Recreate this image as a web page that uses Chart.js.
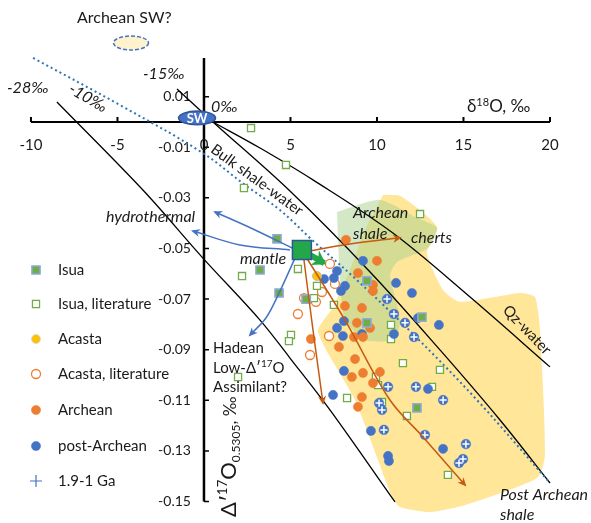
<!DOCTYPE html>
<html>
<head>
<meta charset="utf-8">
<script src="https://cdn.jsdelivr.net/npm/chart.js@4.4.0/dist/chart.umd.min.js"></script>
<style>
  html, body { margin: 0; padding: 0; background: #fff; }
  #wrap { width: 591px; height: 523px; position: relative; }
</style>
</head>
<body>
<div id="wrap"><canvas id="chart"></canvas></div>
<script>
// axis ticks
const xTicks = [-10, -5, 0, 5, 10, 15, 20];
const yTicks = [0.01, -0.01, -0.03, -0.05, -0.07, -0.09, -0.11, -0.13, -0.15];

// samples [d18O, D'17O]
const isua = [[4.22,-0.0462],[3.24,-0.0585],[4.34,-0.0676],[5.90,-0.0700],[9.42,-0.0628],
  [12.60,-0.0771],[9.42,-0.0794],[12.31,-0.1130]];
const isuaLit = [[2.72,-0.0024],[4.74,-0.0170],[2.31,-0.0261],[2.20,-0.0609],[5.43,-0.0581],
  [6.53,-0.0648],[6.36,-0.0696],[7.51,-0.0723],[5.03,-0.0842],[4.91,-0.0866],[1.97,-0.1008],
  [12.49,-0.0364],[10.81,-0.0802],[10.81,-0.0858],[11.50,-0.0953],[13.64,-0.0980],[9.94,-0.1008],
  [10.06,-0.1040],[13.18,-0.1047],[10.29,-0.1107],[8.27,-0.1091],[11.73,-0.1162],[14.10,-0.1395]];
const acasta = [[6.53,-0.0609]];
const acastaLit = [[5.43,-0.0759],[6.82,-0.0672],[5.78,-0.0696],[6.47,-0.0711],[7.28,-0.0561],
  [7.57,-0.0640],[7.23,-0.0846],[6.13,-0.0921]];
const archean = [[8.21,-0.0466],[10.00,-0.0549],[8.90,-0.0597],[9.77,-0.0644],[9.77,-0.0668],
  [8.15,-0.0727],[9.13,-0.0735],[8.84,-0.0794],[9.60,-0.0814],[8.67,-0.0850],[9.19,-0.0850],
  [7.80,-0.0889],[6.18,-0.0858],[8.73,-0.0937],[9.19,-0.0992],[10.17,-0.0988],[8.55,-0.1008],
  [9.77,-0.1032],[9.13,-0.1087],[8.90,-0.1126]];
const postArchean = [[6.94,-0.0621],[9.19,-0.0549],[7.69,-0.0589],[7.51,-0.0617],[8.15,-0.0648],
  [7.92,-0.0668],[11.10,-0.0636],[12.02,-0.0676],[8.09,-0.0787],[7.69,-0.0814],[8.03,-0.0846],
  [9.13,-0.0838],[10.98,-0.0838],[12.37,-0.0775],[13.58,-0.0802],[8.09,-0.0984],[7.46,-0.1079],
  [12.95,-0.1055],[9.65,-0.1221],[10.64,-0.1320],[10.69,-0.1340],[13.82,-0.1292]];
const ga19 = [[10.58,-0.0700],[10.98,-0.0759],[11.62,-0.0794],[12.14,-0.0850],[10.64,-0.1047],
  [12.25,-0.1047],[13.82,-0.1099],[10.12,-0.1111],[10.29,-0.1138],[10.40,-0.1217],[12.77,-0.1237],
  [15.14,-0.1273],[14.97,-0.1332],[14.74,-0.1348]];
const mantle = [[5.66,-0.0506]];

// fields and curves
const postArcheanShale = [[10.35,-0.0289],[11.33,-0.0292],[13.47,-0.0415],[12.89,-0.0518],[13.82,-0.0664],
  [14.80,-0.0711],[18.27,-0.0676],[19.13,-0.0692],[19.42,-0.0822],[19.71,-0.1316],[19.25,-0.1407],
  [15.09,-0.1514],[13.06,-0.1542],[11.33,-0.1522],[10.87,-0.1482],[8.73,-0.1099],[6.59,-0.0830],
  [7.46,-0.0731],[8.44,-0.0585],[9.31,-0.0427],[10.35,-0.0289]];
const archeanShale = [[7.69,-0.0356],[10.17,-0.0308],[12.31,-0.0379],[13.47,-0.0419],[12.95,-0.0498],
  [11.16,-0.0553],[10.75,-0.0605],[11.10,-0.0704],[11.33,-0.0791],[10.98,-0.0862],[9.31,-0.0862],
  [8.15,-0.0783],[7.86,-0.0625],[7.69,-0.0356]];
const curve28 = [[-8.50,0.0079],[-3.53,-0.0269],[-0.06,-0.0538],[3.24,-0.0783],[4.97,-0.0933],
  [7.28,-0.1138],[11.04,-0.1502]];
const curve15 = [[-1.56,0.0130],[0.52,0],[4.97,-0.0273],[9.60,-0.0593],[13.64,-0.0901],
  [17.11,-0.1178],[20.0,-0.1427]];
const qzWater = [[0.52,0],[3.24,-0.0103],[6.30,-0.0229],[10.92,-0.0439],[15.38,-0.0692],[20.0,-0.0968]];
const bulkShaleWater = [[-9.88,0.0253],[-4.86,0.0067],[-0.06,-0.0123],[2.37,-0.0249],[4.39,-0.0348],
  [6.24,-0.0466],[8.84,-0.0625],[12.08,-0.0838],[15.78,-0.1099],[20.0,-0.1427]];

// arrows from mantle
const hydroUp = [[5.09,-0.0498],[2.83,-0.0423],[0.64,-0.0356]];
const hydroLeft = [[4.97,-0.0506],[2.08,-0.0486],[-0.64,-0.0431]];
const hadeanArrow = [[5.26,-0.0538],[4.34,-0.0676],[3.58,-0.0775],[2.66,-0.0842]];
const shaleArrow = [[5.84,-0.0514],[6.95,-0.0558]];
const chertArrow = [[5.72,-0.0514],[8.44,-0.0482],[11.33,-0.0458]];
const archeanArrow = [[5.72,-0.0514],[6.30,-0.0822],[6.88,-0.1111]];
const postArcheanArrow = [[5.72,-0.0514],[8.15,-0.0783],[10.75,-0.1099],[12.66,-0.1245],[15.09,-0.1435]];

const pts = arr => arr.map(p => ({x: p[0], y: p[1]}));
const FONT = 'Lato, "Open Sans", sans-serif';
Chart.defaults.font.family = FONT;

function curve(data, color, width, order, extra) {
  return Object.assign({
    type: 'line', data: pts(data), borderColor: color, borderWidth: width,
    pointRadius: 0, fill: false, tension: 0.35, order: order
  }, extra || {});
}
function field(data, color, order) {
  return {
    type: 'line', data: pts(data), borderWidth: 0, borderColor: 'rgba(0,0,0,0)',
    backgroundColor: color, pointRadius: 0, fill: 'shape', tension: 0.2, order: order
  };
}
function marks(data, style, radius, bg, border, bw, order) {
  return {
    type: 'scatter', data: pts(data), pointStyle: style, pointRadius: radius,
    backgroundColor: bg, borderColor: border, borderWidth: bw, order: order
  };
}

const datasets = [
  field(postArcheanShale, '#FFE699', 20),
  field(archeanShale, 'rgba(169,209,142,0.5)', 19),
  curve(curve28, '#000', 1.3, 15),
  curve(curve15, '#000', 1.3, 15),
  curve(qzWater, '#000', 1.3, 15),
  curve(bulkShaleWater, '#2E75B6', 2, 14, {borderDash: [2, 3]}),
  marks(isuaLit, 'rect', 5, '#fff', '#70AD47', 1.3, 9),
  marks(acastaLit, 'circle', 4.5, '#fff', '#ED7D31', 1.3, 9),
  marks(archean, 'circle', 4.6, '#ED7D31', '#ED7D31', 0.5, 8),
  marks(postArchean, 'circle', 4.6, '#4472C4', '#4472C4', 0.5, 8),
  marks(ga19, 'circle', 4.8, '#4472C4', '#4472C4', 0.5, 7),
  marks(ga19, 'cross', 3.6, '#fff', '#fff', 1.5, 6),
  marks(acasta, 'circle', 4.5, '#FFC000', '#BFBFBF', 1, 6),
  marks(isua, 'rect', 5.8, '#70AD47', '#8FAADC', 1.5, 5),
  curve(hydroUp, '#4472C4', 1.5, 3, {arrow: [9, 4]}),
  curve(hydroLeft, '#4472C4', 1.5, 3, {arrow: [9, 4]}),
  curve(hadeanArrow, '#4472C4', 1.5, 3, {arrow: [9, 4]}),
  curve(chertArrow, '#C55A11', 1.5, 3, {arrow: [9, 4]}),
  curve(archeanArrow, '#C55A11', 1.5, 3, {arrow: [9, 4]}),
  curve(postArcheanArrow, '#C55A11', 1.5, 3, {arrow: [9, 4]}),
  curve(shaleArrow, '#22A84A', 6, 2, {tension: 0, arrow: [13, 8.5]}),
  marks(mantle, 'rect', 13.4, '#22A84A', '#2F5597', 1.5, 1)
];

function text(ctx, str, x, y, font, opts) {
  opts = opts || {};
  ctx.save();
  ctx.font = font;
  ctx.fillStyle = opts.color || '#1a1a1a';
  ctx.textAlign = opts.align || 'left';
  ctx.textBaseline = opts.baseline || 'middle';
  ctx.translate(x, y);
  if (opts.rot) ctx.rotate(opts.rot * Math.PI / 180);
  ctx.fillText(str, 0, 0);
  ctx.restore();
}
// runs of [string, size, dy, italic] along one baseline
function richText(ctx, runs, x, y, rot) {
  ctx.save();
  ctx.translate(x, y);
  if (rot) ctx.rotate(rot * Math.PI / 180);
  ctx.fillStyle = '#1a1a1a';
  ctx.textBaseline = 'alphabetic';
  let cx = 0;
  for (const r of runs) {
    ctx.font = (r[3] ? 'italic ' : '') + r[1] + 'px ' + FONT;
    ctx.fillText(r[0], cx, r[2]);
    cx += ctx.measureText(r[0]).width;
  }
  ctx.restore();
}
function ellipse(ctx, cx, cy, rx, ry, fill, stroke, dash) {
  ctx.save();
  ctx.beginPath();
  ctx.ellipse(cx, cy, rx, ry, 0, 0, Math.PI * 2);
  ctx.fillStyle = fill; ctx.fill();
  if (stroke) {
    ctx.strokeStyle = stroke; ctx.lineWidth = 1.5;
    if (dash) ctx.setLineDash(dash);
    ctx.stroke();
  }
  ctx.restore();
}

const axesPlugin = {
  id: 'axes',
  beforeDatasetsDraw(chart) {
    const ctx = chart.ctx, xs = chart.scales.x, ys = chart.scales.y;
    const y0 = ys.getPixelForValue(0), x0 = xs.getPixelForValue(0);
    ctx.save();
    ctx.strokeStyle = '#000';
    ctx.lineWidth = 2;
    ctx.beginPath();
    ctx.moveTo(xs.getPixelForValue(xTicks[0]), y0);
    ctx.lineTo(xs.getPixelForValue(xTicks[xTicks.length - 1]), y0);
    for (const t of xTicks) {
      const px = xs.getPixelForValue(t);
      ctx.moveTo(px, y0); ctx.lineTo(px, y0 - 5);
    }
    ctx.stroke();
    ctx.lineWidth = 2.5;
    ctx.beginPath();
    ctx.moveTo(x0, ys.getPixelForValue(0.0253));
    ctx.lineTo(x0, ys.getPixelForValue(yTicks[yTicks.length - 1]));
    ctx.stroke();
    ctx.lineWidth = 1.5;
    ctx.beginPath();
    for (const t of yTicks) {
      const py = ys.getPixelForValue(t);
      ctx.moveTo(x0, py); ctx.lineTo(x0 + 5, py);
    }
    ctx.stroke();
    ctx.restore();
    for (const t of xTicks) {
      text(ctx, String(t), xs.getPixelForValue(t), y0 + 23, '15px ' + FONT, {align: 'center'});
    }
    for (const t of yTicks) {
      text(ctx, t.toFixed(2), x0 - 13, ys.getPixelForValue(t), '14px ' + FONT, {align: 'right'});
    }
  },
  afterDatasetsDraw(chart) {
    const ctx = chart.ctx, xs = chart.scales.x, ys = chart.scales.y;
    // arrow heads
    chart.data.datasets.forEach((ds, i) => {
      if (!ds.arrow) return;
      const el = chart.getDatasetMeta(i).data;
      const end = el[el.length - 1], prev = el[el.length - 2];
      let bx = end.cp1x, by = end.cp1y;
      if (bx === undefined || (Math.abs(bx - end.x) < 0.5 && Math.abs(by - end.y) < 0.5)) { bx = prev.x; by = prev.y; }
      const a = Math.atan2(end.y - by, end.x - bx);
      const len = ds.arrow[0], half = ds.arrow[1];
      const tx = end.x + Math.cos(a) * 2, ty = end.y + Math.sin(a) * 2;
      ctx.save();
      ctx.fillStyle = ds.borderColor;
      ctx.beginPath();
      ctx.moveTo(tx, ty);
      ctx.lineTo(tx - len * Math.cos(a) + half * Math.sin(a), ty - len * Math.sin(a) - half * Math.cos(a));
      ctx.lineTo(tx - 0.7 * len * Math.cos(a), ty - 0.7 * len * Math.sin(a));
      ctx.lineTo(tx - len * Math.cos(a) - half * Math.sin(a), ty - len * Math.sin(a) + half * Math.cos(a));
      ctx.closePath();
      ctx.fill();
      ctx.restore();
    });

    // seawater ellipses
    ellipse(ctx, xs.getPixelForValue(-0.40), ys.getPixelForValue(0.0016), 18.5, 6.8, '#4472C4', '#2F5597');
    text(ctx, 'SW', xs.getPixelForValue(-0.40), ys.getPixelForValue(0.0016) + 1, 'bold 13px ' + FONT, {align: 'center', color: '#fff'});
    ellipse(ctx, 131, 43, 17.5, 7, '#FFF2CC', '#4472C4', [4, 2]);

    // annotations
    const it = 'italic 16px ' + FONT, rg = '16px ' + FONT, sm = '15px ' + FONT;
    text(ctx, 'Archean SW?', 77, 18, rg);
    text(ctx, '-15‰', 143, 74, it);
    text(ctx, '-28‰', 7, 88, it);
    text(ctx, '-10‰', 88, 98, it, {align: 'center', rot: 30});
    text(ctx, '0‰', 211, 107, it);
    richText(ctx, [['δ', 17, 0], ['18', 11, -6], ['O, ‰', 17, 0]], 467, 112);
    text(ctx, 'Bulk shale-water', 257, 180, sm, {align: 'center', rot: 36});
    text(ctx, 'hydrothermal', 106, 217, it);
    text(ctx, 'mantle', 240, 259, it);
    text(ctx, 'Archean', 353, 213, it);
    text(ctx, 'shale', 353, 234, it);
    text(ctx, 'cherts', 411, 238, it);
    text(ctx, 'Qz-water', 527, 330, sm, {align: 'center', rot: 46});
    text(ctx, 'Hadean', 213, 348, sm);
    richText(ctx, [['Low-Δ\u2032', 15, 0], ['17', 10, -6], ['O', 15, 0]], 213, 373);
    text(ctx, 'Assimilant?', 213, 387, sm);
    text(ctx, 'Post Archean', 500, 495, it);
    text(ctx, 'shale', 500, 515, it);
    richText(ctx, [['Δ\u2032', 22, 0], ['17', 13, -9], ['O', 22, 0], ['0.5305', 12, 4], [', ‰', 17, 0]], 236, 517, -90);

    // legend
    const legend = [
      ['Isua', 'rect', 5.8, '#70AD47', '#8FAADC', 1.5],
      ['Isua, literature', 'rect', 5, '#fff', '#70AD47', 1.3],
      ['Acasta', 'circle', 4.5, '#FFC000', '#D9D9D9', 1],
      ['Acasta, literature', 'circle', 4.5, '#fff', '#ED7D31', 1.3],
      ['Archean', 'circle', 4.6, '#ED7D31', '#ED7D31', 0.5],
      ['post-Archean', 'circle', 4.6, '#4472C4', '#4472C4', 0.5],
      ['1.9-1 Ga', 'cross', 6, '#4472C4', '#4472C4', 1.2]
    ];
    const rows = [270, 304, 339, 374, 410, 446, 481];
    legend.forEach((l, i) => {
      ctx.save();
      ctx.fillStyle = l[3]; ctx.strokeStyle = l[4]; ctx.lineWidth = l[5];
      Chart.helpers.drawPoint(ctx, {pointStyle: l[1], radius: l[2], rotation: 0, borderWidth: l[5]}, 36, rows[i]);
      ctx.restore();
      text(ctx, l[0], 58, rows[i], '15px ' + FONT);
    });
  }
};

new Chart(document.getElementById('chart'), {
  type: 'scatter',
  data: { datasets: datasets },
  options: {
    responsive: true,
    maintainAspectRatio: false,
    animation: false,
    layout: { padding: 0, autoPadding: false },
    scales: {
      x: { type: 'linear', min: -11.79, max: 22.37, display: false },
      y: { type: 'linear', min: -0.1585, max: 0.0482, display: false }
    },
    plugins: { legend: { display: false }, tooltip: { enabled: false } }
  },
  plugins: [axesPlugin]
});
</script>
</body>
</html>
